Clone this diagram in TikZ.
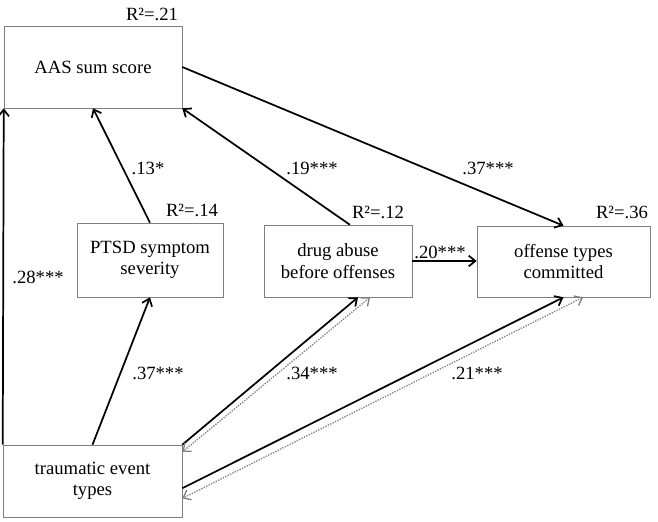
\documentclass[tikz,border=0pt]{standalone}
\usepackage{fontspec}
\setmainfont{Liberation Serif}
\usetikzlibrary{arrows.meta,calc,shadows}

\begin{document}
\begin{tikzpicture}[x=0.75pt,y=-0.75pt,
var/.style={draw=black!50,thin,fill=white,align=center,
  inner sep=0pt,
  drop shadow={shadow xshift=0.8pt,shadow yshift=-0.8pt,opacity=0.25},
  font=\fontsize{14}{16}\selectfont
},
coef/.style={font=\fontsize{14}{16}\selectfont,inner sep=1pt},
path/.style={black,line width=1.3pt,-{Straight Barb[length=5pt,width=8pt]}},
back/.style={black!50,line width=1pt,dash pattern=on 1pt off 1pt,
  {Straight Barb[length=5pt,width=8pt]}-{Straight Barb[length=5pt,width=8pt]}}
]
\useasboundingbox (0,0) rectangle (658,522);

\node (aas) [var,minimum width=133.5pt,minimum height=61.5pt] at (93,67) {AAS sum score};
\node (ptsd) [var,minimum width=109.5pt,minimum height=55.5pt] at (150,260) {PTSD symptom\\severity};
\node (drug) [var,minimum width=111pt,minimum height=54pt] at (338,261) {drug abuse\\before offenses};
\node (off) [var,minimum width=129.75pt,minimum height=53.25pt] at (563.5,261.5) {offense types\\committed};
\node (trauma) [var,minimum width=134.25pt,minimum height=54pt] at (92.5,481) {traumatic event\\types};

% explained variance
\node (r2aas) [coef] at (152,14) {R²=.21};
\node (r2ptsd) [coef] at (192,210) {R²=.14};
\node (r2drug) [coef] at (378,212) {R²=.12};
\node (r2off) [coef] at (622,212) {R²=.36};

% paths
\draw [path] (trauma.north west) to (aas.south west);
\draw [path] (trauma.north) to (ptsd.south);
\draw [path] (ptsd.north) to (aas.south);
\draw [path] ($(drug.north west)!0.58!(drug.north east)$) to (aas.south east);
\draw [path] (aas.east) to (off.north);
\draw [path] (drug.east) to (drug.east -| off.west);
\draw [path] (trauma.north east) to ($(drug.south west)!0.635!(drug.south east)$);
\draw [path] ($(trauma.north east)!0.6!(trauma.south east)$) to (off.south);
\draw [back] ($(drug.south west)!0.716!(drug.south east)$) to ($(trauma.north east)!0.1!(trauma.south east)$);
\draw [back] ($(off.south west)!0.613!(off.south east)$) to ($(trauma.north east)!0.74!(trauma.south east)$);

% coefficients
\node (c28) [coef] at (38,277) {.28***};
\node (c13) [coef] at (148,168) {.13*};
\node (c19) [coef] at (312,168) {.19***};
\node (c37a) [coef] at (488,168) {.37***};
\node (c20) [coef] at (440,252) {.20***};
\node (c37b) [coef] at (158,373) {.37***};
\node (c34) [coef] at (312,373) {.34***};
\node (c21) [coef] at (477,373) {.21***};

\end{tikzpicture}
\end{document}
